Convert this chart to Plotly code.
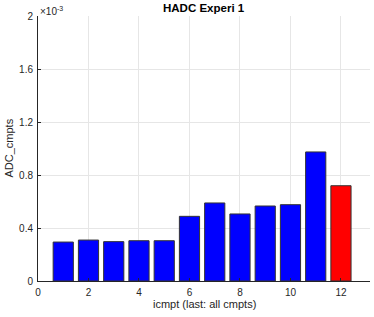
import plotly.graph_objects as go

categories = list(range(1, 13))
adc_values = [0.294e-3, 0.309e-3, 0.297e-3, 0.304e-3, 0.304e-3, 0.488e-3,
              0.589e-3, 0.506e-3, 0.566e-3, 0.576e-3, 0.974e-3, 0.719e-3]
bar_colors = ["#0000ff"] * 11 + ["#ff0000"]
y_tickvals = [0, 0.4e-3, 0.8e-3, 1.2e-3, 1.6e-3, 2.0e-3]
y_ticktext = ["0", "0.4", "0.8", "1.2", "1.6", "2"]
x_tickvals = [0, 2, 4, 6, 8, 10, 12]

font = "Liberation Sans, Arial, sans-serif"

fig = go.Figure(go.Bar(
    x=categories, y=adc_values, width=0.8,
    marker=dict(color=bar_colors, line=dict(color="#333333", width=1)),
))

fig.update_layout(
    width=374, height=317,
    margin=dict(l=38, r=4, t=16, b=36, autoexpand=False),
    paper_bgcolor="white", plot_bgcolor="white",
    font=dict(family=font, size=10, color="#262626"),
    showlegend=False,
    xaxis=dict(range=[0, 13.15], tickvals=x_tickvals, showgrid=True,
               gridcolor="#e6e6e6", showline=True, linecolor="#262626",
               ticks="inside", ticklen=3, tickcolor="#262626", zeroline=False,
               automargin=False, ticklabelstandoff=2),
    yaxis=dict(range=[0, 2.0e-3], tickvals=y_tickvals, ticktext=y_ticktext,
               showgrid=True, gridcolor="#e6e6e6", showline=True,
               linecolor="#262626", ticks="inside", ticklen=3,
               tickcolor="#262626", zeroline=False, automargin=False,
               ticklabelstandoff=2),
    bargap=0.2,
)

fig.add_annotation(text="<b>HADC Experi 1</b>", xref="paper", yref="paper",
                   x=0.5, y=1.0, xanchor="center", yanchor="bottom",
                   showarrow=False, font=dict(size=11.5, color="#000000"),
                   yshift=0)
fig.add_annotation(text="ADC_cmpts", xref="paper", yref="paper",
                   x=0.0, y=0.5, xanchor="center", yanchor="middle",
                   textangle=-90, showarrow=False, xshift=-30,
                   font=dict(size=11, color="#262626"))
fig.add_annotation(text="icmpt (last: all cmpts)", xref="paper", yref="paper",
                   x=0.5, y=0.0, xanchor="center", yanchor="top",
                   showarrow=False, yshift=-15,
                   font=dict(size=11, color="#262626"))
fig.add_annotation(text="×10<sup>-3</sup>", xref="paper", yref="paper",
                   x=0.0, y=1.0, xanchor="left", yanchor="bottom",
                   showarrow=False, font=dict(size=10, color="#262626"),
                   yshift=-3)

fig.write_html(
    "out.html",
    config={"responsive": False, "displayModeBar": False},
    post_script="document.body.style.margin='0';document.body.style.padding='0';",
)
